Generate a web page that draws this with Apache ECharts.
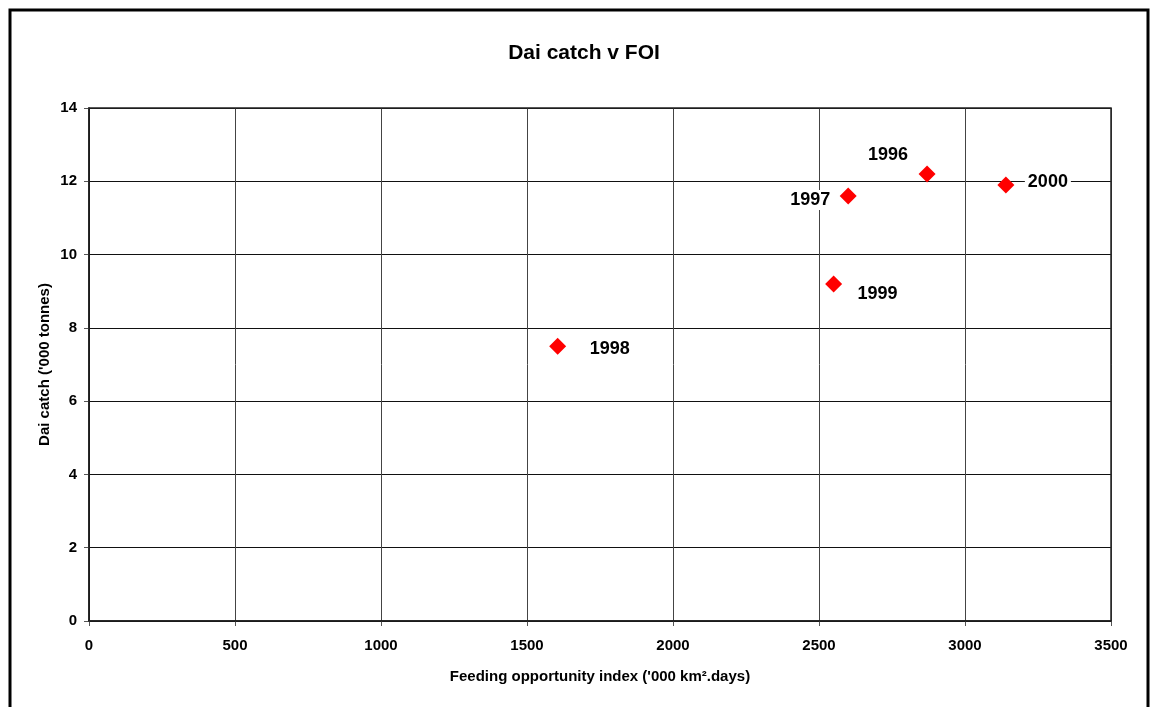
<!DOCTYPE html>
<html>
<head>
<meta charset="utf-8">
<title>Dai catch v FOI</title>
<script src="https://cdn.jsdelivr.net/npm/echarts@6/dist/echarts.min.js"></script>
<style>
  html, body { margin: 0; padding: 0; background: #fff; }
  #chart { width: 1150px; height: 707px; }
</style>
</head>
<body>
<div id="chart"></div>
<script>
// data
const years = ['1996', '1997', '1998', '1999', '2000'];
const foi = [2870, 2600, 1605, 2550, 3140];
const daiCatch = [12.2, 11.6, 7.5, 9.2, 11.9];

const xTicks = { min: 0, max: 3500, interval: 500 };
const yTicks = { min: 0, max: 14, interval: 2 };

// where each year label sits relative to its marker (px)
const labelOffsets = {
  '1996': [-39, -19],
  '1997': [-38, 4],
  '1998': [52, 3],
  '1999': [44, 10],
  '2000': [42, -3]
};

const chart = echarts.init(document.getElementById('chart'));
const font = 'Liberation Sans, Arial, sans-serif';

const points = years.map((y, i) => ({
  value: [foi[i], daiCatch[i]],
  name: y,
  label: { offset: labelOffsets[y] }
}));

const options = {
  backgroundColor: '#fff',
  animation: false,
  title: {
    text: 'Dai catch v FOI',
    left: 579,
    top: 38,
    textAlign: 'center',
    textStyle: { fontFamily: font, fontSize: 21, fontWeight: 'bold', color: '#000' }
  },
  graphic: [{
    type: 'rect',
    shape: { x: 10, y: 10, width: 1138, height: 720 },
    style: { fill: 'none', stroke: '#000', lineWidth: 3 },
    z: 100
  }, {
    type: 'rect',
    shape: { x: 89, y: 108, width: 1022, height: 513 },
    style: { fill: 'none', stroke: '#222', lineWidth: 1.5 },
    z: 1
  }],
  grid: { left: 89, top: 108, right: 39, bottom: 86, containLabel: false },
  xAxis: {
    type: 'value',
    min: xTicks.min,
    max: xTicks.max,
    interval: xTicks.interval,
    name: "Feeding opportunity index ('000 km\u00b2.days)",
    nameLocation: 'middle',
    nameGap: 48,
    nameTextStyle: { fontFamily: font, fontSize: 15, fontWeight: 'bold', color: '#000' },
    axisLine: { show: true, onZero: false, lineStyle: { color: '#000', width: 1.5 } },
    axisTick: { show: true, length: 5, lineStyle: { color: '#555' } },
    axisLabel: {
      margin: 17,
      formatter: v => String(v),
      fontFamily: font, fontSize: 15, fontWeight: 'bold', color: '#000'
    },
    splitLine: { show: true, lineStyle: { color: '#444', width: 1 } }
  },
  yAxis: {
    type: 'value',
    min: yTicks.min,
    max: yTicks.max,
    interval: yTicks.interval,
    name: "Dai catch ('000 tonnes)",
    nameLocation: 'middle',
    nameGap: 37,
    nameMoveOverlap: false,
    nameTextStyle: { fontFamily: font, fontSize: 15, fontWeight: 'bold', color: '#000' },
    axisLine: { show: true, onZero: false, lineStyle: { color: '#000', width: 1.5 } },
    axisTick: { show: true, length: 5, lineStyle: { color: '#555' } },
    axisLabel: { margin: 12, fontFamily: font, fontSize: 15, fontWeight: 'bold', color: '#000' },
    splitLine: { show: true, lineStyle: { color: '#111', width: 1 } }
  },
  series: [{
    type: 'scatter',
    symbol: 'diamond',
    symbolSize: 17,
    itemStyle: { color: '#ff0000', opacity: 1 },
    label: {
      show: true,
      position: 'inside',
      formatter: p => p.name,
      fontFamily: font,
      fontSize: 18,
      fontWeight: 'bold',
      color: '#000',
      opacity: 1,
      backgroundColor: '#fff',
      padding: [1, 3]
    },
    emphasis: { disabled: true },
    data: points,
    z: 5
  }]
};

chart.setOption(options);
</script>
</body>
</html>
